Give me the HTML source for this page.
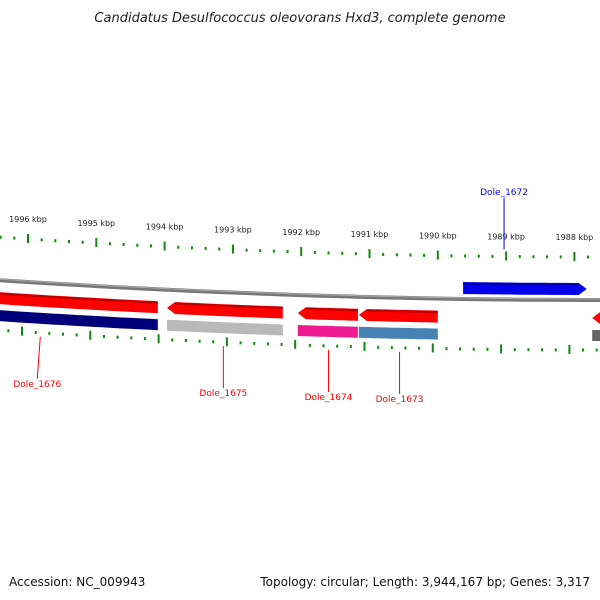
<!DOCTYPE html>
<html><head><meta charset="utf-8">
<style>
body{margin:0;background:#fff;width:600px;height:600px;overflow:hidden;font-family:"DejaVu Sans","Liberation Sans",sans-serif;}
svg{display:block}
</style></head>
<body>
<svg id="map" width="600" height="600">
<text x="300" y="22" text-anchor="middle" font-size="13" font-style="italic" fill="#222">Candidatus Desulfococcus oleovorans Hxd3, complete genome</text>
<text x="9" y="586" font-size="12" fill="#111">Accession: NC_009943</text>
<text x="590" y="586" text-anchor="end" font-size="12" fill="#111">Topology: circular; Length: 3,944,167 bp; Genes: 3,317</text>
<g id="layer"></g>
</svg>
<script>
const tickKbp = [1996,1995,1994,1993,1992,1991,1990,1989,1988];
const geneNames = ["Dole_1676","Dole_1675","Dole_1674","Dole_1673","Dole_1672","Dole_1671"];
const geneStart = [1996.45,1993.965,1992.05,1991.155,1989.63,1987.74];
const geneEnd = [1994.10,1992.27,1991.17,1990.0,1987.82,1987.3];
const geneStrand = [-1,-1,-1,-1,1,-1];
const cogColors = ["#00007a","#b9b9b9","#ee1a8f","#4682b4",null,"#666666"];
const labelKbp = [1995.82,1993.14,1991.6,1990.56,1989.03,null];

const NS="http://www.w3.org/2000/svg";
const layer=document.getElementById('layer');
const K=5.5e-5;
function X(kbp,shift){return 28+(1996-kbp)*68.3+(shift||0);}
function Y(x,off){return off-K*(x-600)*(x-600);}
function mk(tag,attrs){const e=document.createElementNS(NS,tag);for(const k in attrs)e.setAttribute(k,attrs[k]);layer.appendChild(e);return e;}
function band(x1,x2,top,bot,arrow){ // arrow: 1 right, -1 left, 0 none
  let a=Math.min(x1,x2),b=Math.max(x1,x2);
  const pts=[];const n=20;const tip=8;
  let sa=a,sb=b;
  if(arrow===1)sb=b-tip; if(arrow===-1)sa=a+tip;
  for(let i=0;i<=n;i++){const x=sa+(sb-sa)*i/n;pts.push([x,Y(x,top)]);}
  if(arrow===1){pts.push([b,Y(b,(top+bot)/2)]);}
  for(let i=n;i>=0;i--){const x=sa+(sb-sa)*i/n;pts.push([x,Y(x,bot)]);}
  if(arrow===-1){pts.push([a,Y(a,(top+bot)/2)]);}
  return pts.map(p=>p[0].toFixed(1)+','+p[1].toFixed(1)).join(' ');
}
function curve(x1,x2,off){const p=[];for(let i=0;i<=30;i++){const x=x1+(x2-x1)*i/30;p.push(x.toFixed(1)+','+Y(x,off).toFixed(1));}return p.join(' ');}

// backbone
let bb=mk('polyline',{points:curve(-5,605,300),fill:'none',stroke:'#777','stroke-width':4});


let bb2=mk('polyline',{points:curve(-5,605,299),fill:'none',stroke:'#aaa','stroke-width':1});



// ticks
for(let k=1997;k>=1987;k-=0.2){
  const kk=Math.round(k*10)/10;
  const major=Math.abs(kk-Math.round(kk))<0.01;
  const xt=X(kk), xb=X(kk,-6+ (kk<1992?1:0));
  [[xt,257],[xb,350]].forEach(([x,off],j)=>{
    if(x<-2||x>602)return;
    const y=Y(x,off);
    const t=mk('line',{x1:x,x2:x,y1:major?y-5:y-1.5,y2:major?y+4:y+1.5,stroke:'#118811','stroke-width':2});
    
    
  });
}
tickKbp.forEach(k=>{
  const x=X(k);
  const t=mk('text',{x:x,y:Y(x,240),'text-anchor':'middle','font-size':8,fill:'#222'});
  t.textContent=k+' kbp';
  
  
});

// genes
geneNames.forEach((nm,i)=>{
  const x1=X(geneStart[i]),x2=X(geneEnd[i]);
  const fwd=geneStrand[i]>0;
  const top=fwd?283:312,bot=fwd?295:324;
  const col=fwd?'#0000ee':'#ff0000';
  const showArrow=(fwd&&geneEnd[i]>1987.6)||(!fwd&&geneStart[i]<1996.2)?(fwd?1:-1):0;
  const g=mk('polygon',{points:band(x1,x2,top,bot,showArrow),fill:col});
  
  
  const hl=mk('polyline',{points:curve(Math.min(x1,x2)+(showArrow===-1?8:0),Math.max(x1,x2)-(showArrow===1?8:0),top+1.5),fill:'none',stroke:fwd?'#0000aa':'#bb0000','stroke-width':2});
  
  
  if(cogColors[i]){
    const c=mk('polygon',{points:band(x1,x2,330,341,0),fill:cogColors[i]});
    
    
  }
  if(labelKbp[i]!==null){
    const lx=X(labelKbp[i]);
    if(fwd){
      const l=mk('line',{x1:lx,x2:lx,y1:198,y2:Y(lx,250),stroke:'#0000ee','stroke-width':1});
      
      
      const t=mk('text',{x:lx,y:195,'text-anchor':'middle','font-size':9,fill:'#0000ee'});
      t.textContent=nm;
      
      
    } else {
      const ly=Y(lx,360)+(i===0?44:i===1?44:44);
      const l=mk('line',{x1:lx,x2:lx-(i===0?3:0),y1:Y(lx,360)-6,y2:ly-8,stroke:'#ff0000','stroke-width':1});
      
      
      const t=mk('text',{x:lx-(i===0?3:0),y:ly,'text-anchor':'middle','font-size':9,fill:'#ff0000'});
      t.textContent=nm;
      
      
    }
  }
});
</script>
</body></html>
